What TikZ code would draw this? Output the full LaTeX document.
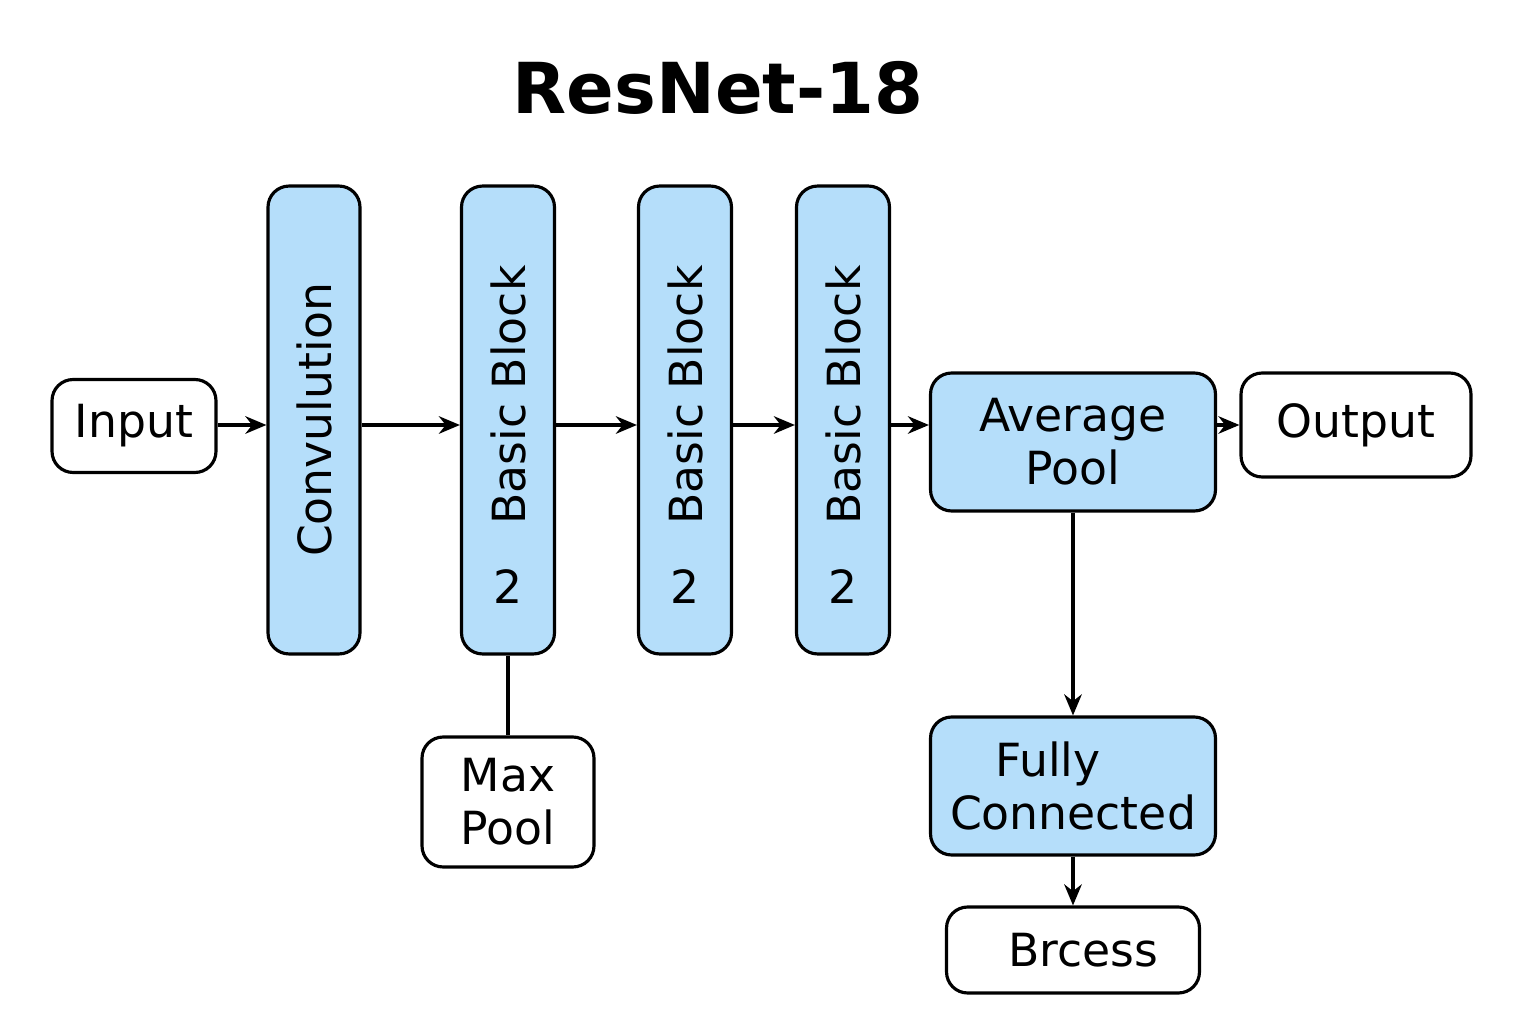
\documentclass[tikz,border=0pt]{standalone}
\usepackage{fontspec}
\setmainfont{DejaVu Sans}
\usetikzlibrary{arrows.meta}
\definecolor{layerblue}{HTML}{B5DEFA}
\tikzset{
  box/.style={draw=black, line width=1.8pt, rounded corners=12pt, inner sep=0pt, align=center, font=\fontsize{26}{30}\selectfont},
  bluebox/.style={box, fill=layerblue},
  arr/.style={-{Stealth[length=12pt,width=10pt]}, line width=1.8pt},
}
\begin{document}
\begin{tikzpicture}[x=0.02cm,y=-0.02cm]
  \useasboundingbox (0,0) rectangle (1536,1024);
  % -=-=-=-=- TITLE -=-=-=-=-
  \node (title) at (718,88) {\fontsize{40}{44}\selectfont\bfseries ResNet-18};
  % -=-=-=-=- MAIN ROW -=-=-=-=-
  \node[box, minimum width=3.28cm, minimum height=1.86cm] (input) at (134,426) {Input};
  \node[bluebox, minimum width=1.84cm, minimum height=9.36cm] (conv) at (314,420) {};
  \node[rotate=90, font=\fontsize{26}{30}\selectfont] (convtxt) at (314,420) {Convulution};
  \node[bluebox, minimum width=1.86cm, minimum height=9.36cm] (bb1) at (508,420) {};
  \node[bluebox, minimum width=1.86cm, minimum height=9.36cm] (bb2) at (685,420) {};
  \node[bluebox, minimum width=1.86cm, minimum height=9.36cm] (bb3) at (843,420) {};
  \foreach \n/\x in {a/508, b/685, c/843} {
    \node[rotate=90, font=\fontsize{26}{30}\selectfont] (bbtxt\n) at (\x,395) {Basic Block};
    \node[font=\fontsize{26}{30}\selectfont] (bbnum\n) at (\x,587) {2};
  }
  \node[bluebox, minimum width=5.70cm, minimum height=2.76cm] (avg) at (1073,442) {Average\\Pool};
  \node[box, minimum width=4.60cm, minimum height=2.08cm] (output) at (1356,425) {Output};
  % -=-=-=-=- BRANCHES -=-=-=-=-
  \node[box, minimum width=3.44cm, minimum height=2.60cm] (maxpool) at (508,802) {Max\\Pool};
  \node[bluebox, minimum width=5.70cm, minimum height=2.76cm] (fc) at (1073,786) {\hspace{-1cm}Fully\\Connected};
  \node[box, minimum width=5.06cm, minimum height=1.72cm] (brcess) at (1073,950) {\hspace{0.4cm}Brcess};
  % -=-=-=-=- CONNECTORS -=-=-=-=-
  \draw[arr] (input.east |- 0,425) -- (conv.west |- 0,425);
  \draw[arr] (conv.east |- 0,425) -- (bb1.west |- 0,425);
  \draw[arr] (bb1.east |- 0,425) -- (bb2.west |- 0,425);
  \draw[arr] (bb2.east |- 0,425) -- (bb3.west |- 0,425);
  \draw[arr] (bb3.east |- 0,425) -- (avg.west |- 0,425);
  \draw[arr] (avg.east |- 0,425) -- (output.west |- 0,425);
  \draw[line width=1.8pt] (bb1.south) -- (maxpool.north);
  \draw[arr] (avg.south) -- (fc.north);
  \draw[arr] (fc.south) -- (brcess.north);
\end{tikzpicture}
\end{document}
